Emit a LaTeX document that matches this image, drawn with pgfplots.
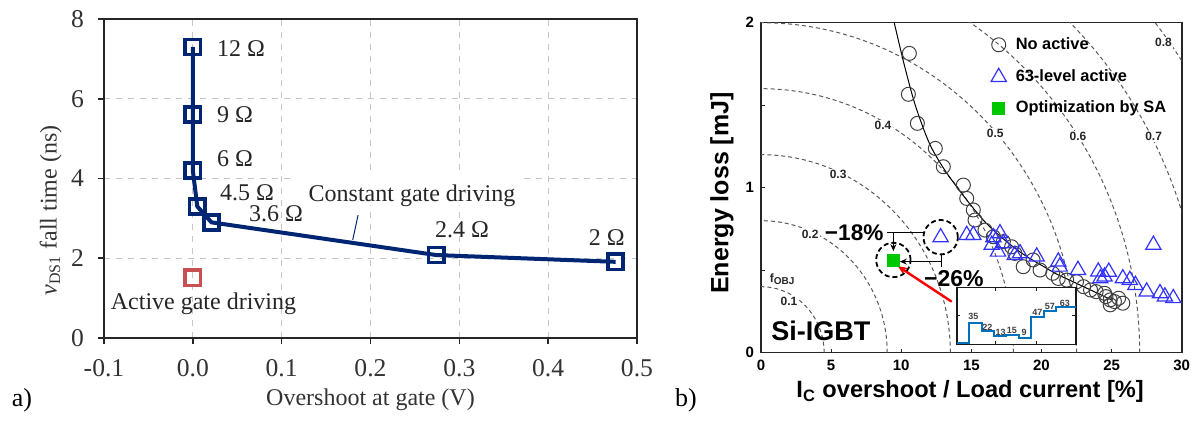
\documentclass[border=0pt]{standalone}
\usepackage{fontspec}
\setmainfont{Liberation Sans}
\newfontfamily\serif{Liberation Serif}
\usepackage{pgfplots}
\pgfplotsset{compat=1.18}
\usetikzlibrary{arrows.meta}
\definecolor{navy}{RGB}{0,38,115}
\definecolor{agred}{RGB}{200,80,80}
\definecolor{mblue}{RGB}{0,114,189}
\definecolor{tblue}{RGB}{50,50,255}
\definecolor{sgreen}{RGB}{0,200,0}
\begin{document}
\begin{tikzpicture}
\useasboundingbox (0,0) rectangle (599pt,210.5pt);
% ---------------- panel a ----------------
\begin{axis}[
  at={(52pt,41.5pt)}, anchor=south west, scale only axis,
  width=266.5pt, height=159.5pt,
  xmin=-0.1, xmax=0.5, ymin=0, ymax=8,
  xtick={-0.1,0,0.1,0.2,0.3,0.4,0.5},
  xticklabels={-0.1,0.0,0.1,0.2,0.3,0.4,0.5},
  ytick={0,2,4,6,8}, yticklabels={0,2,4,6,8},
  font=\serif\fontsize{12}{14}\selectfont,
  ticklabel style={font=\serif\fontsize{12.8}{14}\selectfont, text=black!80},
  xticklabel style={yshift=-4pt},
  yticklabel style={xshift=-3.5pt},
  grid=major, major grid style={gray!45, dashed, line width=0.4pt},
  axis line style={gray!30!black, line width=1pt},
  tick style={gray!30!black, line width=0.8pt},
  tick align=outside, major tick length=3pt, tick pos=left,
  xlabel={Overshoot at gate (V)},
  ylabel={\textit{v}\textsubscript{DS1} fall time (ns)},
  xlabel style={at={(axis description cs:0.5,-0.194)}, anchor=center, text=black!80},
  ylabel style={at={(axis description cs:-0.1,0.40)}, anchor=center, text=black!80},
]
\fill[white] (axis cs:0.1128,3.34) rectangle (axis cs:0.366,4.06);
\node[anchor=center, text=black!85] at (axis cs:0.2467,3.56) {Constant gate driving};
\draw[navy, line width=0.5pt] (axis cs:0.186,3.08) -- (axis cs:0.180,2.46);
\addplot[navy, line width=2pt, mark=square, mark size=3.8pt,
  mark options={line width=1.8pt, fill=white}]
  coordinates {(0,7.3)(0,5.6)(0,4.2)(0.005,3.3)(0.021,2.9)(0.274,2.08)(0.476,1.91)};
\addplot[only marks, agred, mark=square, mark size=3.8pt,
  mark options={line width=1.8pt, fill=white}]
  coordinates {(0,1.51)};
\node[anchor=west, text=black!85] at (axis cs:0.0193,7.27) {12 Ω};
\node[anchor=west, text=black!85] at (axis cs:0.0193,5.59) {9 Ω};
\node[anchor=west, text=black!85] at (axis cs:0.0193,4.49) {6 Ω};
\node[anchor=west, text=black!85] at (axis cs:0.0227,3.64) {4.5 Ω};
\node[anchor=west, text=black!85] at (axis cs:0.0554,3.11) {3.6 Ω};
\node[text=black!85] at (axis cs:0.303,2.71) {2.4 Ω};
\node[text=black!85] at (axis cs:0.466,2.51) {2 Ω};
\node[text=black!85] at (axis cs:0.012,0.853) {Active gate driving};
\end{axis}
\node[font=\serif\fontsize{13}{15}\selectfont] at (11pt,10.5pt) {a)};
\node[font=\serif\fontsize{13}{15}\selectfont] at (343pt,10.5pt) {b)};
% ---------------- panel b ----------------
\begin{axis}[
  at={(380.5pt,34.15pt)}, anchor=south west, scale only axis,
  width=210.35pt, height=165pt,
  xmin=0, xmax=30, ymin=0, ymax=2,
  xtick={0,5,10,15,20,25,30}, xticklabels={0,5,10,15,20,25,30},
  ytick={0,0.5,1,1.5,2}, yticklabels={0,,1,,2},
  tick align=inside, major tick length=2pt, tick pos=left,
  ticklabel style={font=\bfseries\fontsize{7.5}{9}\selectfont},
  axis line style={gray!30!black, line width=0.8pt},
  tick style={gray!30!black, line width=0.6pt},
  xlabel={I\textsubscript{C} overshoot / Load current [\%]},
  ylabel={Energy loss [mJ]},
  xlabel style={at={(axis description cs:0.497,-0.118)}, anchor=center, font=\bfseries\fontsize{11.8}{13}\selectfont},
  ylabel style={at={(axis description cs:-0.093,0.484)}, anchor=center, font=\bfseries\fontsize{12.5}{14}\selectfont},
  legend style={at={(axis description cs:0.546,0.957)}, anchor=north west,
    draw=none, fill=none, inner sep=0pt, row sep=8pt,
    font=\bfseries\fontsize{8.2}{9}\selectfont,
    nodes={inner sep=0pt, text height=6pt, text depth=1.5pt},
    /tikz/every odd column/.append style={column sep=4.7pt}},
  legend cell align=left,
]
\tikzset{contour/.style={draw=black!65, line width=0.5pt, dash pattern=on 2pt off 1.5pt}}
\draw[contour] (axis cs:4.5,0) arc[start angle=0,end angle=90,x radius=4.5,y radius=0.4];
\draw[contour] (axis cs:9,0) arc[start angle=0,end angle=90,x radius=9,y radius=0.8];
\draw[contour] (axis cs:13.5,0) arc[start angle=0,end angle=90,x radius=13.5,y radius=1.2];
\draw[contour] (axis cs:18,0) arc[start angle=0,end angle=90,x radius=18,y radius=1.6];
\draw[contour] (axis cs:22.5,0) arc[start angle=0,end angle=90,x radius=22.5,y radius=2.0];
\draw[contour] (axis cs:27,0) arc[start angle=0,end angle=90,x radius=27,y radius=2.4];
\draw[contour] (axis cs:31.5,0) arc[start angle=0,end angle=90,x radius=31.5,y radius=2.8];
\draw[contour] (axis cs:36,0) arc[start angle=0,end angle=90,x radius=36,y radius=3.2];
\begin{scope}[every node/.style={fill=white, inner sep=0.6pt, font=\bfseries\fontsize{6}{7}\selectfont, text=black!85}]
\node at (axis cs:2.0,0.31) {0.1};
\node at (axis cs:3.5,0.72) {0.2};
\node at (axis cs:5.5,1.08) {0.3};
\node at (axis cs:8.7,1.38) {0.4};
\node at (axis cs:16.7,1.33) {0.5};
\node at (axis cs:22.6,1.31) {0.6};
\node at (axis cs:28.0,1.31) {0.7};
\node at (axis cs:28.7,1.88) {0.8};
\end{scope}
\node[anchor=west, inner sep=0pt, font=\bfseries\fontsize{6}{7}\selectfont, text=black!85] at (axis cs:0.6,0.445) {f\textsubscript{OBJ}};
\addplot[black, line width=0.5pt, smooth, forget plot] coordinates {
(9.5,2.0)(10.2,1.75)(11.0,1.5)(12.0,1.27)(13.0,1.12)(14.0,1.0)(15.0,0.89)(16.0,0.79)
(17.0,0.71)(18.0,0.64)(19.0,0.58)(20.0,0.53)(21.0,0.48)(22.0,0.44)(23.0,0.40)(24.0,0.36)(25.0,0.32)};
\addplot[only marks, mark=o, mark size=3.5pt, mark options={draw=black!75, line width=0.5pt}]
coordinates {
(10.58,1.814)(10.51,1.566)(11.15,1.390)(12.43,1.238)(13.0,1.127)(14.43,1.016)(14.67,0.935)
(15.14,0.865)(15.26,0.804)(15.97,0.743)(16.57,0.703)(17.28,0.673)(17.87,0.642)(18.1,0.602)
(18.7,0.521)(19.4,0.562)(19.9,0.501)(20.8,0.481)(21.2,0.450)(21.8,0.44)(22.5,0.43)(23.0,0.40)
(23.5,0.38)(23.9,0.37)(24.5,0.36)(24.6,0.34)(24.9,0.32)(25.2,0.31)(25.8,0.30)(24.9,0.29)(25.5,0.33)};
\addlegendentry{No active}
\addplot[only marks, mark=triangle, mark size=4.4pt, mark options={draw=tblue, line width=0.6pt}]
coordinates {
(12.81,0.699)(14.67,0.713)(15.14,0.713)(16.57,0.699)(17.04,0.723)(16.45,0.653)(16.9,0.612)
(17.28,0.663)(18.1,0.592)(18.47,0.602)(19.66,0.582)(21.2,0.552)(21.3,0.521)(22.6,0.501)
(24.05,0.491)(24.5,0.461)(24.8,0.49)(25.8,0.45)(26.3,0.44)(26.7,0.41)(27.5,0.37)(27.98,0.653)
(28.45,0.36)(28.8,0.34)(29.4,0.33)(24.2,0.45)};
\addlegendentry{63-level active}
\addplot[only marks, mark=square*, mark size=3pt, mark options={draw=sgreen, fill=sgreen}]
coordinates {(9.44,0.562)};
\addlegendentry{Optimization by SA}
\addplot[only marks, forget plot, mark=o, mark size=8.6pt,
  mark options={draw=black, line width=0.9pt, dash pattern=on 2.5pt off 1.5pt}]
coordinates {(12.81,0.70)(9.44,0.562)};
\draw[black, line width=0.7pt] (axis cs:8.96,0.73) -- (axis cs:11.6,0.73);
\draw[black, line width=0.7pt, -{Stealth[length=3.5pt,width=3pt]}] (axis cs:9.44,0.73) -- (axis cs:9.44,0.615);
\draw[black, line width=0.7pt] (axis cs:12.88,0.598) -- (axis cs:12.88,0.52);
\draw[black, line width=0.7pt, -{Stealth[length=3.5pt,width=3pt]}] (axis cs:12.88,0.552) -- (axis cs:9.9,0.552);
\node[anchor=east, inner sep=1pt, font=\bfseries\fontsize{11.3}{13}\selectfont] at (axis cs:8.9,0.725) {−18\%};
\node[inner sep=1pt, font=\bfseries\fontsize{11.5}{13}\selectfont] at (axis cs:13.75,0.447) {−26\%};
\draw[red, line width=1.2pt, -{Stealth[length=5pt,width=4pt]}] (axis cs:13.6,0.309) -- (axis cs:9.75,0.525);
\node[font=\bfseries\fontsize{13.5}{15}\selectfont] at (axis cs:4.26,0.133) {Si-IGBT};
\end{axis}
% ---------------- inset ----------------
\begin{axis}[
  at={(478.35pt,38.25pt)}, anchor=south west, scale only axis,
  width=59.65pt, height=28.5pt,
  xmin=0, xmax=9.6, ymin=-2, ymax=98,
  xtick={3.1,6.45}, ytick={48}, xticklabels={}, yticklabels={},
  tick align=inside, major tick length=1.8pt,
  axis background/.style={fill=white},
  axis line style={gray!20!black, line width=0.9pt},
  tick style={gray!20!black, line width=0.5pt},
]
\addplot[mblue, line width=1pt, const plot] coordinates {(0,0)(1,35)(2,22)(3,13)(4,15)(5,9)(6,47)(7,57)(8,63)(9.6,63)};
\begin{scope}[every node/.style={inner sep=0pt, font=\bfseries\fontsize{4.5}{5}\selectfont, text=black!75}]
\node at (axis cs:1.34,47.8) {35};
\node at (axis cs:2.46,28.5) {22};
\node at (axis cs:3.54,19.8) {13};
\node at (axis cs:4.43,23.3) {15};
\node at (axis cs:5.42,18.7) {9};
\node at (axis cs:6.49,54.8) {47};
\node at (axis cs:7.5,65.3) {57};
\node at (axis cs:8.7,70) {63};
\end{scope}
\end{axis}
\end{tikzpicture}
\end{document}
